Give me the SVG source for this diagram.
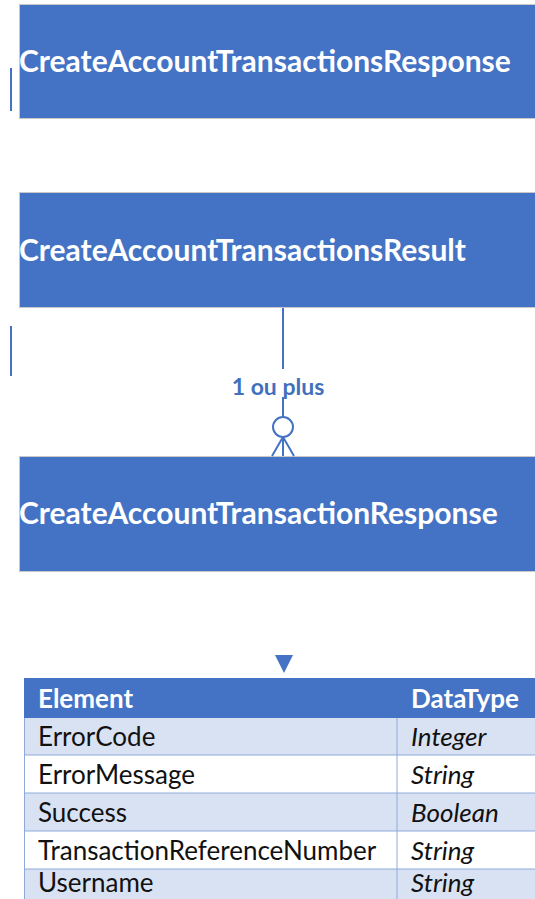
<svg xmlns="http://www.w3.org/2000/svg" width="535" height="899" viewBox="0 0 535 899">
<style>
.box{fill:#4472C4;stroke:#C8C8C8;stroke-width:1}
.bt{font-family:Lato,"Open Sans",sans-serif;font-weight:bold;font-size:30px;fill:#fff}
.ln{stroke:#4472C4;stroke-width:2;fill:none}
.lbl{font-family:Lato,"Open Sans",sans-serif;font-weight:bold;font-size:23px;fill:#4170BC}
.hd{font-family:Lato,"Open Sans",sans-serif;font-weight:bold;font-size:26px;fill:#fff}
.td{font-family:Lato,"Open Sans",sans-serif;font-size:26px;fill:#111}
.ti{font-family:Lato,"Open Sans",sans-serif;font-size:26px;font-style:italic;fill:#111}
.rl{fill:#D9E2F3}
.rw{fill:#fff}
.gl{stroke:#8EAADB;stroke-width:1}
</style>
<g id="node1">
<rect class="box" x="19.5" y="4.5" width="520" height="114"/>
<text class="bt" x="19" y="72">CreateAccountTransactionsResponse</text>
</g>
<g id="node2">
<rect class="box" x="19.5" y="192.5" width="520" height="115"/>
<text class="bt" x="19" y="261">CreateAccountTransactionsResult</text>
</g>
<g id="node3">
<rect class="box" x="19.5" y="456.5" width="520" height="115"/>
<text class="bt" x="19" y="524">CreateAccountTransactionResponse</text>
</g>
<g id="connectors">
<line class="ln" x1="11" y1="68" x2="11" y2="111"/>
<line class="ln" x1="11" y1="326" x2="11" y2="376"/>
<line class="ln" x1="283" y1="308" x2="283" y2="369"/>
<text class="lbl" x="278" y="395" text-anchor="middle">1 ou plus</text>
<line class="ln" x1="283" y1="397" x2="283" y2="417"/>
<circle class="ln" cx="283" cy="427" r="10"/>
<path class="ln" d="M283 437 L272 456 M283 437 L283 456 M283 437 L294 456"/>
<path d="M275 655 L293 655 L284 673 Z" fill="#4472C4"/>
</g>
<g id="table">
<rect x="24" y="678" width="520" height="40" fill="#4472C4"/>
<rect class="rl" x="24" y="718" width="520" height="37"/>
<rect class="rw" x="24" y="755" width="520" height="38"/>
<rect class="rl" x="24" y="793" width="520" height="38"/>
<rect class="rw" x="24" y="831" width="520" height="38"/>
<rect class="rl" x="24" y="869" width="520" height="31"/>
<line class="gl" x1="24" y1="755" x2="535" y2="755"/>
<line class="gl" x1="24" y1="793" x2="535" y2="793"/>
<line class="gl" x1="24" y1="831" x2="535" y2="831"/>
<line class="gl" x1="24" y1="869" x2="535" y2="869"/>
<line class="gl" x1="24.5" y1="718" x2="24.5" y2="899"/>
<line class="gl" x1="397" y1="718" x2="397" y2="899"/>
<text class="hd" x="38" y="708">Element</text>
<text class="hd" x="411" y="708">DataType</text>
<text class="td" x="38" y="746">ErrorCode</text>
<text class="ti" x="411" y="746">Integer</text>
<text class="td" x="38" y="784">ErrorMessage</text>
<text class="ti" x="411" y="784">String</text>
<text class="td" x="38" y="822">Success</text>
<text class="ti" x="411" y="822">Boolean</text>
<text class="td" x="38" y="860">TransactionReferenceNumber</text>
<text class="ti" x="411" y="860">String</text>
<text class="td" x="38" y="892">Username</text>
<text class="ti" x="411" y="892">String</text>
</g>
</svg>
